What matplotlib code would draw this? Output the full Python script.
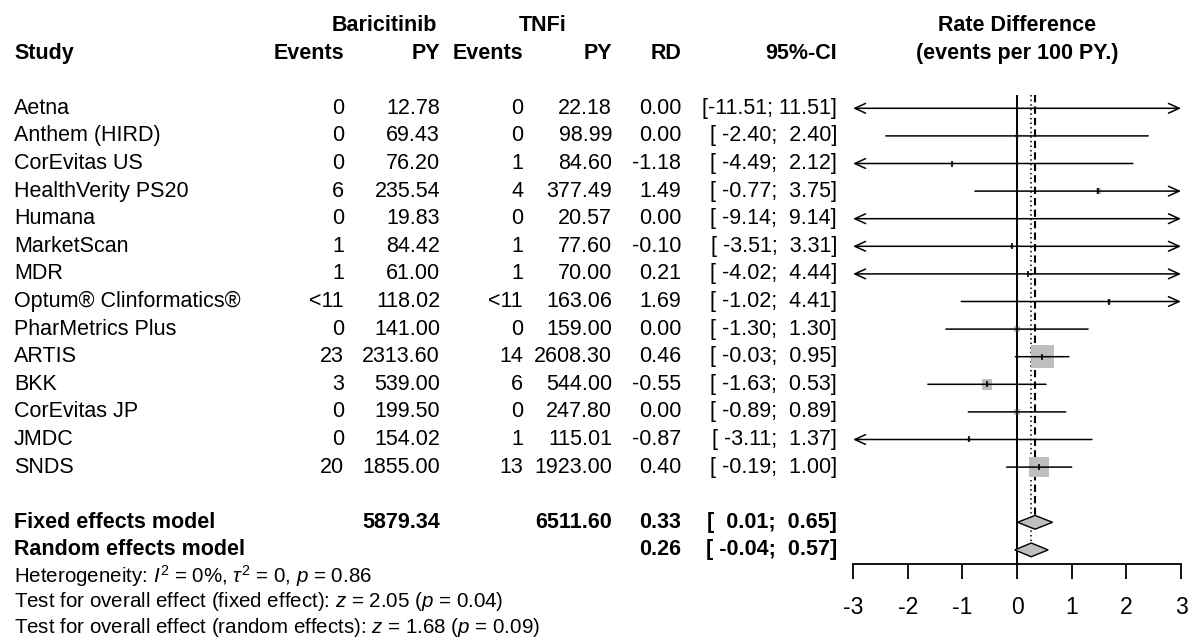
import matplotlib
matplotlib.use("Agg")
import matplotlib.pyplot as plt
from matplotlib.patches import Polygon
import numpy as np

plt.rcParams['font.family'] = ['Liberation Sans', 'DejaVu Sans']
plt.rcParams['mathtext.fontset'] = 'custom'
plt.rcParams['mathtext.rm'] = 'Liberation Sans'
plt.rcParams['mathtext.it'] = 'Liberation Sans:italic'
plt.rcParams['mathtext.bf'] = 'Liberation Sans:bold'

studies = ["Aetna", "Anthem (HIRD)", "CorEvitas US", "HealthVerity PS20", "Humana",
           "MarketScan", "MDR", "Optum\u00ae Clinformatics\u00ae", "PharMetrics Plus",
           "ARTIS", "BKK", "CorEvitas JP", "JMDC", "SNDS"]
events_bari = ["0", "0", "0", "6", "0", "1", "1", "<11", "0", "23", "3", "0", "0", "20"]
py_bari = [12.78, 69.43, 76.20, 235.54, 19.83, 84.42, 61.00, 118.02, 141.00,
           2313.60, 539.00, 199.50, 154.02, 1855.00]
events_tnfi = ["0", "0", "1", "4", "0", "1", "1", "<11", "0", "14", "6", "0", "1", "13"]
py_tnfi = [22.18, 98.99, 84.60, 377.49, 20.57, 77.60, 70.00, 163.06, 159.00,
           2608.30, 544.00, 247.80, 115.01, 1923.00]
rd = [0.00, 0.00, -1.18, 1.49, 0.00, -0.10, 0.21, 1.69, 0.00, 0.46, -0.55, 0.00, -0.87, 0.40]
ci_lo = [-11.51, -2.40, -4.49, -0.77, -9.14, -3.51, -4.02, -1.02, -1.30, -0.03, -1.63, -0.89, -3.11, -0.19]
ci_hi = [11.51, 2.40, 2.12, 3.75, 9.14, 3.31, 4.44, 4.41, 1.30, 0.95, 0.53, 0.89, 1.37, 1.00]
# study weights (%), fixed effect
weight = [0.1, 1.6, 0.8, 2.3, 0.2, 0.8, 0.5, 1.4, 3.4, 44.0, 9.2, 3.4, 1.3, 31.0]

pooled_names = ["Fixed effects model", "Random effects model"]
pooled_py_bari = "5879.34"
pooled_py_tnfi = "6511.60"
pooled_rd = [0.33, 0.26]
pooled_lo = [0.01, -0.04]
pooled_hi = [0.65, 0.57]

footer = [r"Heterogeneity: $I^2$ = 0%, $\tau^2$ = 0, $p$ = 0.86",
          r"Test for overall effect (fixed effect): $z$ = 2.05 ($p$ = 0.04)",
          r"Test for overall effect (random effects): $z$ = 1.68 ($p$ = 0.09)"]
xticks = [-3, -2, -1, 0, 1, 2, 3]

W, H = 1190, 640
fig = plt.figure(figsize=(W / 100, H / 100), dpi=100)
fig.patch.set_facecolor("white")

# rows are laid out on a line grid shared by the text and the forest panel
line_h = 27.6
top_off = 25.5
ylim = ((H - top_off) / line_h, -top_off / line_h)

tx = fig.add_axes([0, 0, 1, 1])
tx.set_xlim(0, W)
tx.set_ylim(*ylim)
tx.axis("off")

fs = 15.5
bold = dict(fontsize=fs, fontweight="bold", va="center")
norm = dict(fontsize=fs, va="center")

col_study = 14
col_ev1, col_py1, col_ev2, col_py2, col_rd, col_ci = 344, 440, 523, 612, 681, 837

tx.text(384, 0, "Baricitinib", ha="center", **bold)
tx.text(543, 0, "TNFi", ha="center", **bold)
tx.text(1017, 0, "Rate Difference", ha="center", **bold)
tx.text(col_study, 1, "Study", ha="left", **bold)
for x, lab in [(col_ev1, "Events"), (col_py1, "PY"), (col_ev2, "Events"),
               (col_py2, "PY"), (col_rd, "RD"), (col_ci, "95%-CI")]:
    tx.text(x, 1, lab, ha="right", **bold)
tx.text(1017, 1, "(events per 100 PY.)", ha="center", **bold)


def fmt_ci(lo, hi):
    return "[%6s; %5s]" % ("%.2f" % lo, "%.2f" % hi)


first = 3
for i, name in enumerate(studies):
    y = first + i
    tx.text(col_study, y, name, ha="left", **norm)
    tx.text(col_ev1, y, events_bari[i], ha="right", **norm)
    tx.text(col_py1, y, "%.2f" % py_bari[i], ha="right", **norm)
    tx.text(col_ev2, y, events_tnfi[i], ha="right", **norm)
    tx.text(col_py2, y, "%.2f" % py_tnfi[i], ha="right", **norm)
    tx.text(col_rd, y, "%.2f" % rd[i], ha="right", **norm)
    tx.text(col_ci, y, fmt_ci(ci_lo[i], ci_hi[i]), ha="right", **norm)

pool_y = [first + len(studies) + 1, first + len(studies) + 2]
for j, name in enumerate(pooled_names):
    y = pool_y[j]
    tx.text(col_study, y, name, ha="left", **bold)
    tx.text(col_rd, y, "%.2f" % pooled_rd[j], ha="right", **bold)
    tx.text(col_ci, y, fmt_ci(pooled_lo[j], pooled_hi[j]), ha="right", **bold)
tx.text(col_py1, pool_y[0], pooled_py_bari, ha="right", **bold)
tx.text(col_py2, pool_y[0], pooled_py_tnfi, ha="right", **bold)

# heterogeneity and test lines, set a bit tighter than the table rows
for k, line in enumerate(footer):
    tx.text(col_study, pool_y[1] + 0.95 + 0.93 * k, line, ha="left", fontsize=14.8, va="center")

# forest panel
x0, x1 = 853, 1181
ax = fig.add_axes([x0 / W, 0, (x1 - x0) / W, 1])
ax.patch.set_alpha(0)
ax.set_xlim(-3, 3)
ax.set_ylim(*ylim)
for s in ["top", "left", "right"]:
    ax.spines[s].set_visible(False)
axis_y = pool_y[1] + 0.5
ax.spines["bottom"].set_position(("data", axis_y))
ax.spines["bottom"].set_linewidth(1.3)
ax.set_yticks([])
ax.set_xticks(xticks)
ax.set_xticklabels([str(t) for t in xticks])
ax.tick_params(axis="x", direction="out", length=10.5, width=1.3, pad=13, labelsize=16.5)

top_y = first - 0.5
ax.vlines(0, top_y, axis_y, color="black", lw=1.4, zorder=2)
ax.vlines(pooled_rd[0], top_y, pool_y[0] - 0.25, color="black", lw=1.5,
          linestyles=(0, (3.5, 2)), zorder=2)
ax.vlines(pooled_rd[1], top_y, pool_y[1] - 0.25, color="black", lw=1.1,
          linestyles=(0, (1, 2)), zorder=2)

# square area follows the study weight
w = np.array(weight)
side = 16.6 * np.sqrt(w / w.max())
ys = first + np.arange(len(studies))
ax.scatter(rd, ys, s=side ** 2, marker="s", color="#BEBEBE", linewidths=0, zorder=3)

xmin, xmax = -3, 3
for i in range(len(studies)):
    y = ys[i]
    lo, hi = ci_lo[i], ci_hi[i]
    left_cut, right_cut = lo < xmin, hi > xmax
    a, b = max(lo, xmin), min(hi, xmax)
    if left_cut and right_cut:
        style = "<->"
    elif left_cut:
        style = "<-"
    elif right_cut:
        style = "->"
    else:
        style = "-"
    ax.annotate("", xy=(b, y), xytext=(a, y),
                arrowprops=dict(arrowstyle=style + (",head_length=0.55,head_width=0.25" if style != "-" else ""),
                                lw=1.1, color="black", shrinkA=0, shrinkB=0,
                                mutation_scale=14),
                annotation_clip=False, zorder=4)
    ax.plot([rd[i]], [y], marker="|", markersize=5, mew=1.2, color="black", zorder=5)

for j in range(2):
    y = pool_y[j]
    poly = Polygon([(pooled_lo[j], y), (pooled_rd[j], y - 0.25),
                    (pooled_hi[j], y), (pooled_rd[j], y + 0.25)],
                   closed=True, facecolor="#BEBEBE", edgecolor="black", lw=1.0, zorder=4)
    ax.add_patch(poly)

fig.savefig("out.png", dpi=100, facecolor="white")
